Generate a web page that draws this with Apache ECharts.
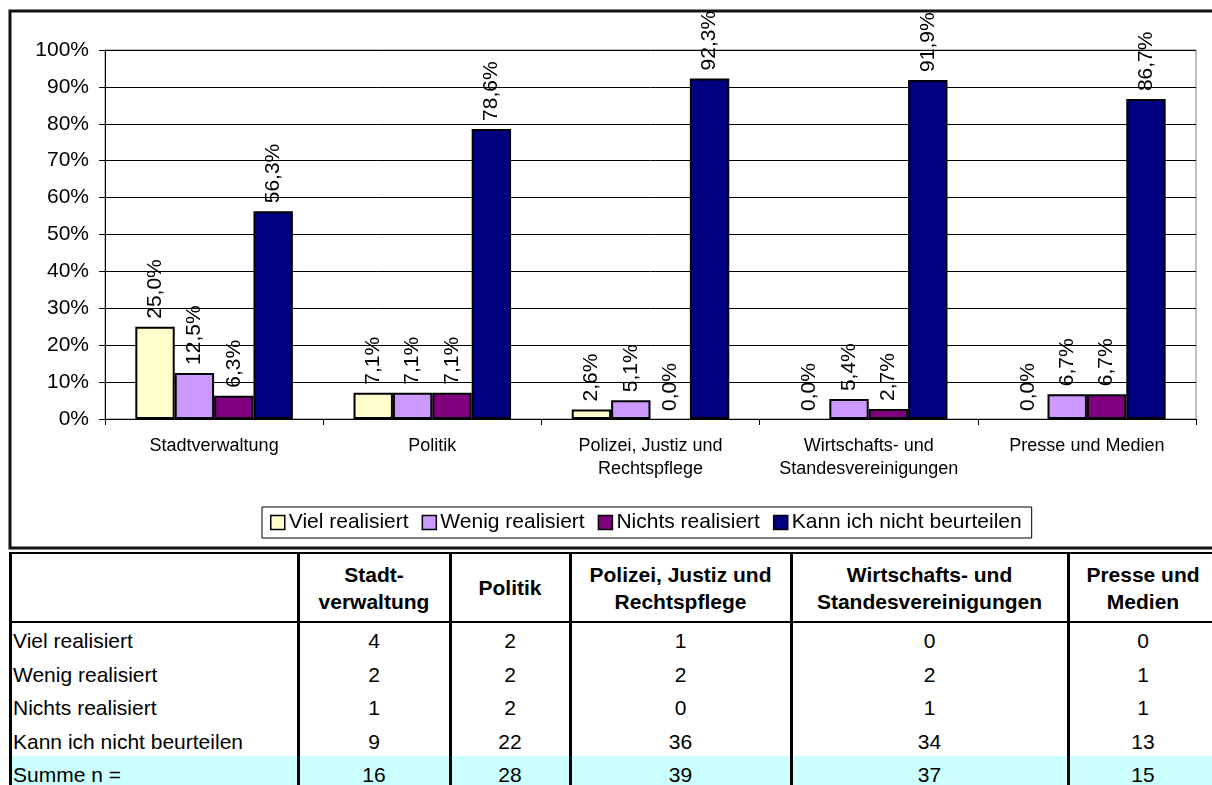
<!DOCTYPE html>
<html>
<head>
<meta charset="utf-8">
<script src="https://cdn.jsdelivr.net/npm/echarts@6/dist/echarts.min.js"></script>
<style>
  html, body { margin:0; padding:0; background:#fff; }
  body { width:1212px; height:785px; position:relative; overflow:hidden; font-family:'Liberation Sans', Arial, sans-serif; }
  #chart { position:absolute; left:0; top:0; width:1212px; height:552px; }
  .cell { position:absolute; display:flex; align-items:center; font-size:21px; color:#000; white-space:pre; line-height:27px; }
  .ln { position:absolute; background:#000; }
</style>
</head>
<body>
<div id="chart"></div>
<div id="table"></div>
<script>
// ---- data ----
const categories = ['Stadtverwaltung', 'Politik', 'Polizei, Justiz und\nRechtspflege', 'Wirtschafts- und\nStandesvereinigungen', 'Presse und Medien'];
const tableHeaders = ['Stadt-\nverwaltung', 'Politik', 'Polizei, Justiz und\nRechtspflege', 'Wirtschafts- und\nStandesvereinigungen', 'Presse und\nMedien'];
const seriesNames = ['Viel realisiert', 'Wenig realisiert', 'Nichts realisiert', 'Kann ich nicht beurteilen'];
const seriesColors = ['#FFFFCC', '#CC99FF', '#800080', '#000080'];
const pctViel   = [25.0, 7.1, 2.6, 0.0, 0.0];
const pctWenig  = [12.5, 7.1, 5.1, 5.4, 6.7];
const pctNichts = [6.3, 7.1, 0.0, 2.7, 6.7];
const pctKann   = [56.3, 78.6, 92.3, 91.9, 86.7];
const cntViel   = [4, 2, 1, 0, 0];
const cntWenig  = [2, 2, 2, 2, 1];
const cntNichts = [1, 2, 0, 1, 1];
const cntKann   = [9, 22, 36, 34, 13];
const cntSumme  = [16, 28, 39, 37, 15];
const yTicks = [0, 10, 20, 30, 40, 50, 60, 70, 80, 90, 100];

const pctSeries = [pctViel, pctWenig, pctNichts, pctKann];
const FONT = "'Liberation Sans', Arial, sans-serif";

const chart = echarts.init(document.getElementById('chart'), null, {renderer:'canvas'});
chart.setOption({
  animation: false,
  textStyle: { fontFamily: FONT, color:'#000' },
  graphic: [{
    type:'rect', z: -1,
    shape:{ x:10, y:11, width:1230, height:537 },
    style:{ fill:'#fff', stroke:'#111', lineWidth:3 }
  }],
  grid: { left:105, top:50, right:16, bottom:133, show:true, borderColor:'#808080', borderWidth:1, backgroundColor:'transparent' },
  legend: {
    left:262, top:507, orient:'horizontal',
    itemWidth:14, itemHeight:14, itemGap:13,
    padding:[5, 10, 5, 8],
    borderColor:'#000', borderWidth:1,
    icon:'rect',
    itemStyle:{ borderColor:'#000', borderWidth:1.5 },
    textStyle:{ fontSize:21, color:'#000', fontFamily:FONT, padding:[0,0,0,-1] },
    data: seriesNames
  },
  xAxis: {
    type:'category', data: categories,
    axisLine:{ show:true, lineStyle:{ color:'#000', width:1 } },
    axisTick:{ show:true, length:6, lineStyle:{ color:'#000' } },
    axisLabel:{ interval:0, fontSize:18, lineHeight:23, margin:16, color:'#000', fontFamily:FONT, align:'center' }
  },
  yAxis: {
    type:'value', min:yTicks[0], max:yTicks[yTicks.length-1], interval:10,
    axisLine:{ show:true, lineStyle:{ color:'#000', width:1 } },
    axisTick:{ show:true, length:6, lineStyle:{ color:'#000' } },
    axisLabel:{ fontSize:21, margin:16, color:'#000', fontFamily:FONT, formatter: v => v + '%' },
    splitLine:{ show:true, lineStyle:{ color:'#000', width:1 } }
  },
  series: seriesNames.map((name, i) => ({
    type:'bar', name,
    data: pctSeries[i].map(v => v === 0 ? { value: v, itemStyle:{ borderWidth:0 } } : v),
    barGap:'0%', barCategoryGap:'27.8%',
    itemStyle:{ color: seriesColors[i], borderColor:'#000', borderWidth:2 },
    label:{
      show:true, position:'top', rotate:90, align:'left', verticalAlign:'middle',
      distance:8, fontSize:21, color:'#000', fontFamily:FONT,
      formatter: p => p.value.toFixed(1).replace('.', ',') + '%'
    }
  }))
});

// ---- table below the chart ----
const tbl = document.getElementById('table');
const colEdges = [10, 298, 450, 570, 791, 1068, 1218];
const headerTop = 553, headerBottom = 622, rowH = 33.5;
const rowLabels = ['Viel realisiert', 'Wenig realisiert', 'Nichts realisiert', 'Kann ich nicht beurteilen', 'Summe n ='];
const rowData = [cntViel, cntWenig, cntNichts, cntKann, cntSumme];

function add(el){ tbl.appendChild(el); return el; }
function div(cls, css, text){
  const d = document.createElement('div'); d.className = cls;
  Object.assign(d.style, css); if (text !== undefined) d.textContent = text; return d;
}
// cyan sum row background
const sumTop = headerBottom + 4 * rowH;
add(div('', {position:'absolute', left:'11px', top: sumTop+'px', width:'1210px', height:(785-sumTop)+'px', background:'#CCFFFF'}));

// header cells
tableHeaders.forEach((h, j) => {
  const x0 = colEdges[j+1], x1 = colEdges[j+2];
  add(div('cell', {left:x0+'px', top:headerTop+'px', width:(x1-x0)+'px', height:(headerBottom-headerTop)+'px',
    justifyContent:'center', textAlign:'center', fontWeight:'bold'}, h));
});
// rows
rowLabels.forEach((lab, r) => {
  const top = headerBottom + r * rowH + 2;
  add(div('cell', {left:'13px', top:top+'px', width:(colEdges[1]-13)+'px', height:rowH+'px'}, lab));
  rowData[r].forEach((v, j) => {
    const x0 = colEdges[j+1], x1 = colEdges[j+2];
    add(div('cell', {left:x0+'px', top:top+'px', width:(x1-x0)+'px', height:rowH+'px', justifyContent:'center'}, String(v)));
  });
});
// lines
add(div('ln', {left:'9px', top:'552px', width:'1210px', height:'2px'}));
add(div('ln', {left:'9px', top:'621px', width:'1210px', height:'2px'}));
colEdges.slice(0, 6).forEach(x => {
  add(div('ln', {left:(x-1.5)+'px', top:'552px', width:'3px', height:'240px'}));
});
</script>
</body>
</html>
